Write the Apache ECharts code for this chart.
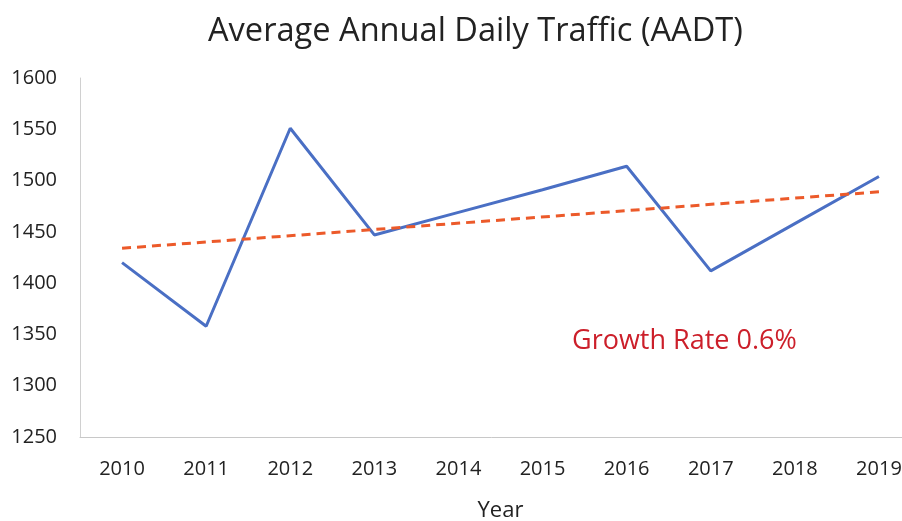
<!DOCTYPE html>
<html><head><meta charset="utf-8">
<script src="https://cdn.jsdelivr.net/npm/echarts@6/dist/echarts.min.js"></script>
<style>html,body{margin:0;padding:0;background:#fff}#c{width:902px;height:521px}</style>
</head><body><div id="c"></div>
<script>
const years = ['2010','2011','2012','2013','2014','2015','2016','2017','2018','2019'];
const aadt = [1420, 1358, 1551, 1447, 1469, 1491, 1514, 1412, 1458, 1504];
const trendYears = ['2010','2019'];
const trendValues = [1434, 1489];
const yTicks = [1250, 1300, 1350, 1400, 1450, 1500, 1550, 1600];
const titleText = 'Average Annual Daily Traffic (AADT)';
const noteText = 'Growth Rate 0.6%';
const FONT = '"Open Sans", sans-serif';

const chart = echarts.init(document.getElementById('c'));
chart.setOption({
  backgroundColor: '#fff',
  animation: false,
  title: [
    { text: titleText, left: 203, top: 10,
      textStyle: { fontFamily: FONT, fontSize: 32.6, fontWeight: 'normal', color: '#222' } },
    { text: noteText, left: 567, top: 323,
      textStyle: { fontFamily: FONT, fontSize: 27, fontWeight: 'normal', color: '#cc1f2a' } }
  ],
  grid: { left: 80, right: -19, top: 78, bottom: 84, outerBoundsMode: 'none', containLabel: false },
  xAxis: {
    type: 'category', data: years, boundaryGap: true,
    name: 'Year', nameLocation: 'middle', nameGap: 63,
    nameTextStyle: { fontFamily: FONT, fontSize: 22, color: '#222' },
    axisLine: { show: true, lineStyle: { color: '#c8c8c8', width: 1 } },
    axisTick: { show: false },
    axisLabel: { margin: 22, fontFamily: FONT, fontSize: 20, color: '#222' }
  },
  yAxis: {
    type: 'value', min: yTicks[0], max: yTicks[yTicks.length - 1], interval: 50,
    axisLine: { show: true, lineStyle: { color: '#d0d0d0', width: 1 } },
    axisTick: { show: false },
    splitLine: { show: false },
    axisLabel: { margin: 23, fontFamily: FONT, fontSize: 20, color: '#222',
      formatter: v => String(v) }
  },
  series: [
    { type: 'line', data: aadt, symbol: 'none',
      lineStyle: { color: '#4a6fc4', width: 3 } },
    { type: 'line', data: trendYears.map((y, i) => [y, trendValues[i]]), symbol: 'none',
      lineStyle: { color: '#ec5a2a', width: 3, type: [9, 6] } }
  ]
});
</script></body></html>
